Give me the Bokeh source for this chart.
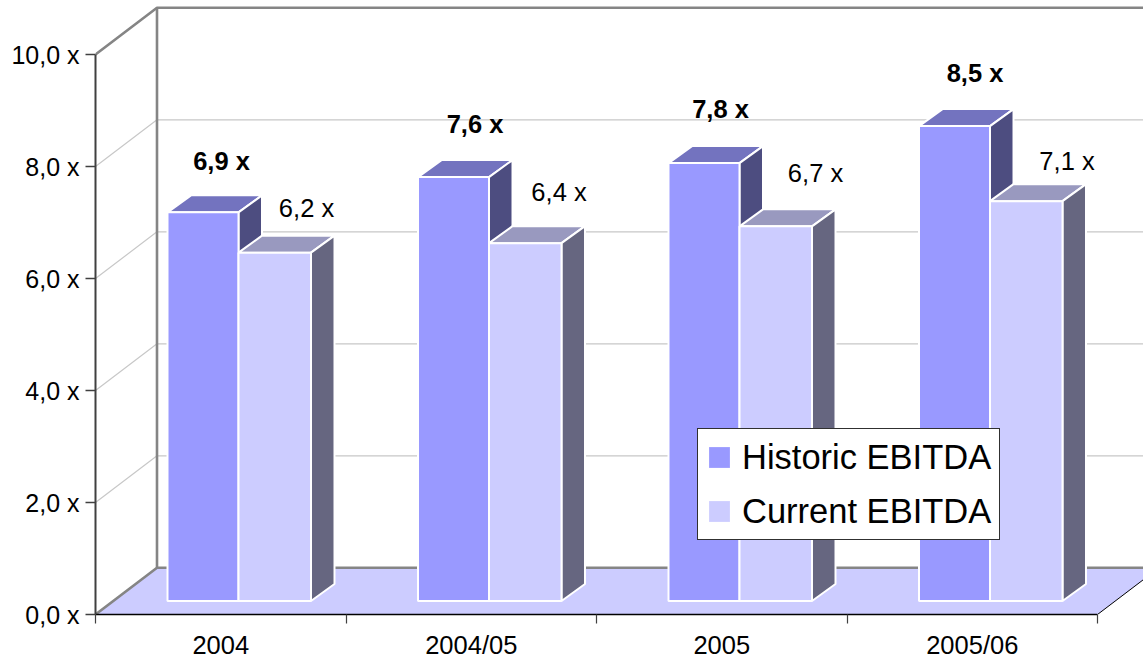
from bokeh.plotting import figure
from bokeh.models import (ColumnDataSource, Range1d, FixedTicker, Legend, LegendItem)
from bokeh.core.properties import value
from bokeh.embed import file_html
from bokeh.resources import INLINE

# ---- data ----
categories = ["2004", "2004/05", "2005", "2005/06"]
historic = [6.94, 7.57, 7.82, 8.48]
current = [6.22, 6.39, 6.69, 7.14]
y_ticks = [0, 2, 4, 6, 8, 10]

# ---- geometry (axis units) ----
PX_X, PX_Y = 250.5, 56.0
FONT = "Liberation Sans"
FS = "25.5px"
X_MAX, Y_MAX = 1048 / PX_X, 614 / PX_Y
WALL_DX, WALL_DY = 61.5 / PX_X, 46.7 / PX_Y      # depth of the chart box
BAR_DX, BAR_DY = 23.5 / PX_X, 17 / PX_Y          # depth of a bar
BASE = 13.5 / PX_Y                               # front of the bars above the floor edge
BAR_L, W1, W2 = 72 / PX_X, 71 / PX_X, 72.5 / PX_X

# label offsets from the bar's top-left corner, px
hist_lab_dx = [54, 57, 52, 56]
hist_lab_dy = [51, 53, 54, 53]
curr_lab_dx = [68, 70, 76, 77]
curr_lab_dy = [45, 51, 53, 40]

p = figure(width=1143, height=658, frame_width=1048, frame_height=614,
           output_backend="svg", toolbar_location=None,
           x_range=Range1d(0, X_MAX), y_range=Range1d(0, Y_MAX),
           min_border_left=95, min_border_right=0, min_border_top=0, min_border_bottom=44,
           outline_line_color=None, background_fill_color="white", border_fill_color="white")
p.grid.visible = False

# axes
ya = p.yaxis[0]
ya.ticker = FixedTicker(ticks=y_ticks)
ya.bounds = (0, 10)
ya.major_label_overrides = {v: f"{v:.1f}".replace(".", ",") + " x" for v in y_ticks}
ya.major_tick_out, ya.major_tick_in = 10, 0
ya.minor_tick_line_color = None
ya.axis_line_color = ya.major_tick_line_color = "#404040"
ya.axis_line_width = 2
ya.major_tick_line_width = 1.5
ya.major_label_standoff = 6
ya.major_label_text_font = FONT
ya.major_label_text_font_size = "25px"
ya.major_label_text_color = "#000000"

xa = p.xaxis[0]
cat_centres = [i + 0.5 for i in range(len(categories))]
xa.ticker = FixedTicker(ticks=cat_centres, minor_ticks=list(range(len(categories) + 1)))
xa.bounds = (0, len(categories))
xa.major_label_overrides = dict(zip(cat_centres, categories))
xa.major_tick_out, xa.major_tick_in = 0, 0
xa.major_tick_line_color = None
xa.minor_tick_out, xa.minor_tick_in = 9, 0
xa.minor_tick_line_color = "#404040"
xa.minor_tick_line_width = 1.2
xa.axis_line_color = "#000000"
xa.axis_line_width = 1.5
xa.major_label_standoff = 7
xa.major_label_text_font = FONT
xa.major_label_text_font_size = FS
xa.major_label_text_color = "#000000"

n = len(categories)
# floor
p.patch([0, n, n + WALL_DX, WALL_DX], [0, 0, WALL_DY, WALL_DY], fill_color="#CCCCFF", line_color=None)
# gridlines on back and side walls
grid_vals = [v for v in y_ticks if 0 < v < 10]
p.multi_line([[0, WALL_DX, X_MAX + 1] for _ in grid_vals],
             [[v, v + WALL_DY, v + WALL_DY] for v in grid_vals],
             line_color="#C8C8C8", line_width=1.2)
# box edges
p.multi_line([[0, WALL_DX, X_MAX + 1], [0, WALL_DX, X_MAX + 1], [WALL_DX, WALL_DX]],
             [[10, 10 + WALL_DY, 10 + WALL_DY], [0, WALL_DY, WALL_DY], [WALL_DY, 10 + WALL_DY]],
             line_color="#858585", line_width=2.6)
# right edge of the floor
p.line([n, n + WALL_DX], [0, WALL_DY], line_color="#000000", line_width=1)


def bars(vals, offset, width, front, top, side):
    left = [i + offset for i in range(n)]
    right = [l + width for l in left]
    tops = [BASE + v for v in vals]
    src = ColumnDataSource(dict(left=left, right=right, bottom=[BASE] * n, top=tops))
    top_x = [[l, r, r + BAR_DX, l + BAR_DX] for l, r in zip(left, right)]
    top_y = [[t, t, t + BAR_DY, t + BAR_DY] for t in tops]
    side_x = [[r, r + BAR_DX, r + BAR_DX, r] for r in right]
    side_y = [[BASE, BASE + BAR_DY, t + BAR_DY, t] for t in tops]
    p.patches(top_x, top_y, fill_color=top, line_color="white", line_width=2)
    p.patches(side_x, side_y, fill_color=side, line_color="white", line_width=2)
    fill = p.quad(left="left", right="right", bottom="bottom", top="top", source=src,
                  fill_color=front, line_color=None)
    p.quad(left="left", right="right", bottom="bottom", top="top", source=src,
           fill_color=None, line_color="white", line_width=2)
    return left, tops, fill


l1, t1, r1 = bars(historic, BAR_L, W1, "#9999FF", "#7373BF", "#4D4D80")
l2, t2, r2 = bars(current, BAR_L + W1, W2, "#CCCCFF", "#9999BF", "#666680")


def labels(vals, left, tops, dxs, dys, style):
    txt = [f"{v:.1f}".replace(".", ",") + " x" for v in vals]
    xs = [l + dx / PX_X for l, dx in zip(left, dxs)]
    ys = [t + dy / PX_Y for t, dy in zip(tops, dys)]
    p.text(xs, ys, text=txt, text_font=value(FONT), text_font_size=FS,
           text_font_style=style, text_color="#000000",
           text_align="center", text_baseline="middle")


labels(historic, l1, t1, hist_lab_dx, hist_lab_dy, "bold")
labels(current, l2, t2, curr_lab_dx, curr_lab_dy, "normal")

legend = Legend(items=[LegendItem(label="Historic EBITDA", renderers=[r1]),
                       LegendItem(label="Current EBITDA", renderers=[r2])],
                location=(602, 74), margin=0, padding=8, spacing=14,
                glyph_width=26, glyph_height=26, label_standoff=10,
                label_text_font=FONT, label_text_font_size="34.5px", label_text_color="#000000",
                label_height=40, border_line_color="#303030", border_line_width=1,
                border_line_alpha=1,
                background_fill_color="white", background_fill_alpha=1)
p.add_layout(legend, "center")

open("out.html", "w").write(file_html(p, INLINE))
